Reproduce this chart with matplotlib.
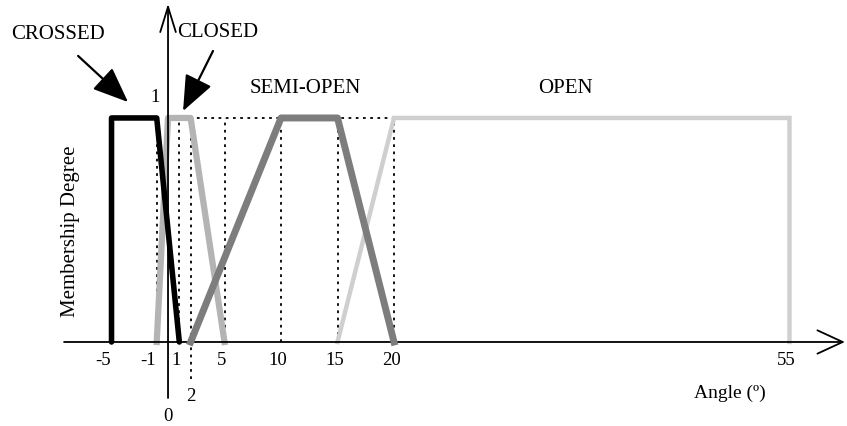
import matplotlib
matplotlib.use("Agg")
import matplotlib.pyplot as plt

plt.rcParams['font.family'] = ['Liberation Serif', 'DejaVu Serif']

# membership functions (angle, degree)
crossed_x = [-5, -5, -1, 1]
crossed_y = [0, 1, 1, 0]
closed_x = [-1, 0, 2, 5]
closed_y = [0, 1, 1, 0]
semi_x = [2, 10, 15, 20]
semi_y = [0, 1, 1, 0]
open_x = [15, 20, 55, 55]
open_y = [0, 1, 1, 0]

guide_x = [-1, 1, 2, 5, 10, 15, 20]
tick_vals = [-5, -1, 1, 5, 10, 15, 20, 55]
tick_text = ['-5', '-1', '1', '5', '10', '15', '20', '55']

fig = plt.figure(figsize=(8.47, 4.27), dpi=100)
ax = fig.add_axes([0, 0, 1, 1])
ax.set_xlim(-14.87, 60.09)
ax.set_ylim(-0.375, 1.531)
ax.axis('off')

dot = (0, (1.5, 2.5))
for gx in guide_x:
    lo = -0.165 if gx == 2 else 0
    ax.plot([gx, gx], [lo, 1], color='black', lw=1.3, ls=dot, zorder=1)
ax.plot([0, 20], [1, 1], color='black', lw=1.3, ls=dot, zorder=1)

ax.plot(open_x, open_y, color='#cfcfcf', lw=3.2, zorder=2, solid_joinstyle='miter')
ax.plot(closed_x, closed_y, color='#b4b4b4', lw=4.5, zorder=3)
ax.plot(semi_x, semi_y, color='#7d7d7d', lw=5, zorder=4)
ax.plot(crossed_x, crossed_y, color='black', lw=4, zorder=5, solid_capstyle='round')

# axes with open arrow heads
ax.annotate('', xy=(59.9, 0), xytext=(-9.2, 0),
            arrowprops=dict(arrowstyle='->,head_length=1.3,head_width=0.6',
                            color='black', lw=1.3, shrinkA=0, shrinkB=0,
                            mutation_scale=14))
ax.annotate('', xy=(0, 1.51), xytext=(0, -0.25),
            arrowprops=dict(arrowstyle='->,head_length=1.3,head_width=0.4',
                            color='black', lw=1.3, shrinkA=0, shrinkB=0,
                            mutation_scale=14))

for v, t in zip(tick_vals, tick_text):
    off = -0.75 if v < 0 else -0.25
    ax.text(v + off, -0.076, t, ha='center', va='center', fontsize=13.5)
ax.text(2, -0.237, '2', ha='center', va='center', fontsize=13.5)
ax.text(0, -0.33, '0', ha='center', va='center', fontsize=13.5)
ax.text(-1.1, 1.094, '1', ha='center', va='center', fontsize=13.5)

ax.text(49.7, -0.223, 'Angle (º)', ha='center', va='center', fontsize=14)
ax.text(-8.67, 0.5, 'Membership Degree', ha='center', va='center',
        rotation=90, fontsize=15)

ax.text(-9.73, 1.375, 'CROSSED', ha='center', va='center', fontsize=15)
ax.text(4.42, 1.384, 'CLOSED', ha='center', va='center', fontsize=15)
ax.text(12.12, 1.138, 'SEMI-OPEN', ha='center', va='center', fontsize=15)
ax.text(35.13, 1.138, 'OPEN', ha='center', va='center', fontsize=15)

head = dict(arrowstyle='-|>,head_length=1.1,head_width=0.45', color='black',
            lw=1.6, shrinkA=0, shrinkB=0, mutation_scale=20)
ax.annotate('', xy=(-3.54, 1.071), xytext=(-7.96, 1.277), arrowprops=head)
ax.annotate('', xy=(1.33, 1.031), xytext=(3.98, 1.299), arrowprops=head)

fig.savefig('out.png', dpi=100)
